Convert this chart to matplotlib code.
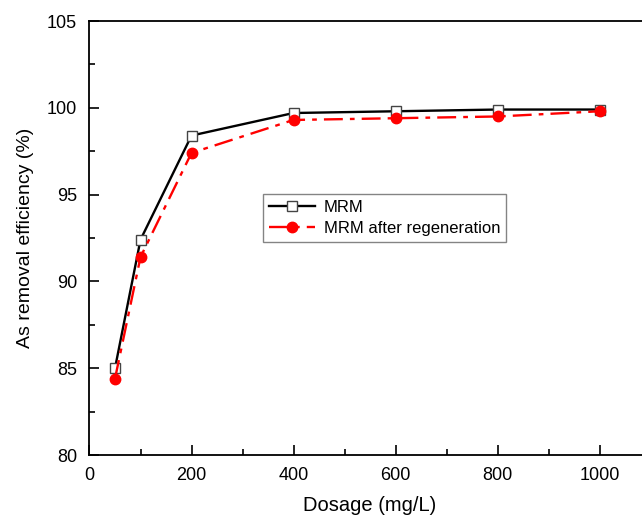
import matplotlib
matplotlib.use("Agg")
import matplotlib.pyplot as plt
from matplotlib.ticker import MultipleLocator

plt.rcParams['font.family'] = ['Liberation Sans', 'DejaVu Sans']

dosage = [50, 100, 200, 400, 600, 800, 1000]
mrm = [85.0, 92.4, 98.4, 99.7, 99.8, 99.9, 99.9]
mrm_regen = [84.4, 91.4, 97.4, 99.3, 99.4, 99.5, 99.8]

W, H = 642, 516
fig = plt.figure(figsize=(W/100, H/100), dpi=100)
x0, x1 = 89.5, 650.5
y0, y1 = 455, 21
ax = fig.add_axes([x0/W, (H-y0)/H, (x1-x0)/W, (y0-y1)/H])

ax.plot(dosage, mrm, color='black', lw=1.7, marker='s', markersize=6.5,
        markerfacecolor='white', markeredgecolor='#444444', markeredgewidth=1.0,
        label='MRM')
ax.plot(dosage, mrm_regen, color='red', lw=1.7, linestyle=(0, (8, 3, 2, 3)),
        marker='o', markersize=7.5, markerfacecolor='red', markeredgecolor='red',
        label='MRM after regeneration')

ax.set_xlim(0, 1100)
ax.set_ylim(80, 105)
ax.xaxis.set_major_locator(MultipleLocator(200))
ax.xaxis.set_minor_locator(MultipleLocator(100))
ax.yaxis.set_major_locator(MultipleLocator(5))
ax.yaxis.set_minor_locator(MultipleLocator(2.5))
ax.tick_params(which='major', direction='in', length=7, width=1.2, labelsize=13, pad=9)
ax.tick_params(which='minor', direction='in', length=4, width=1.2)
ax.tick_params(top=False, right=False)
for s in ax.spines.values():
    s.set_linewidth(1.3)

ax.set_xlabel('Dosage (mg/L)', fontsize=14.5, labelpad=8)
ax.set_ylabel('As removal efficiency (%)', fontsize=14, labelpad=9)

leg = ax.legend(loc='upper left', bbox_to_anchor=(0.309, 0.601), borderaxespad=0,
                fontsize=12, frameon=True, fancybox=False, edgecolor='#666666',
                handlelength=2.8, handletextpad=0.5, borderpad=0.35, labelspacing=0.35)
leg.get_frame().set_linewidth(1.0)

fig.savefig('out.png', dpi=100)
